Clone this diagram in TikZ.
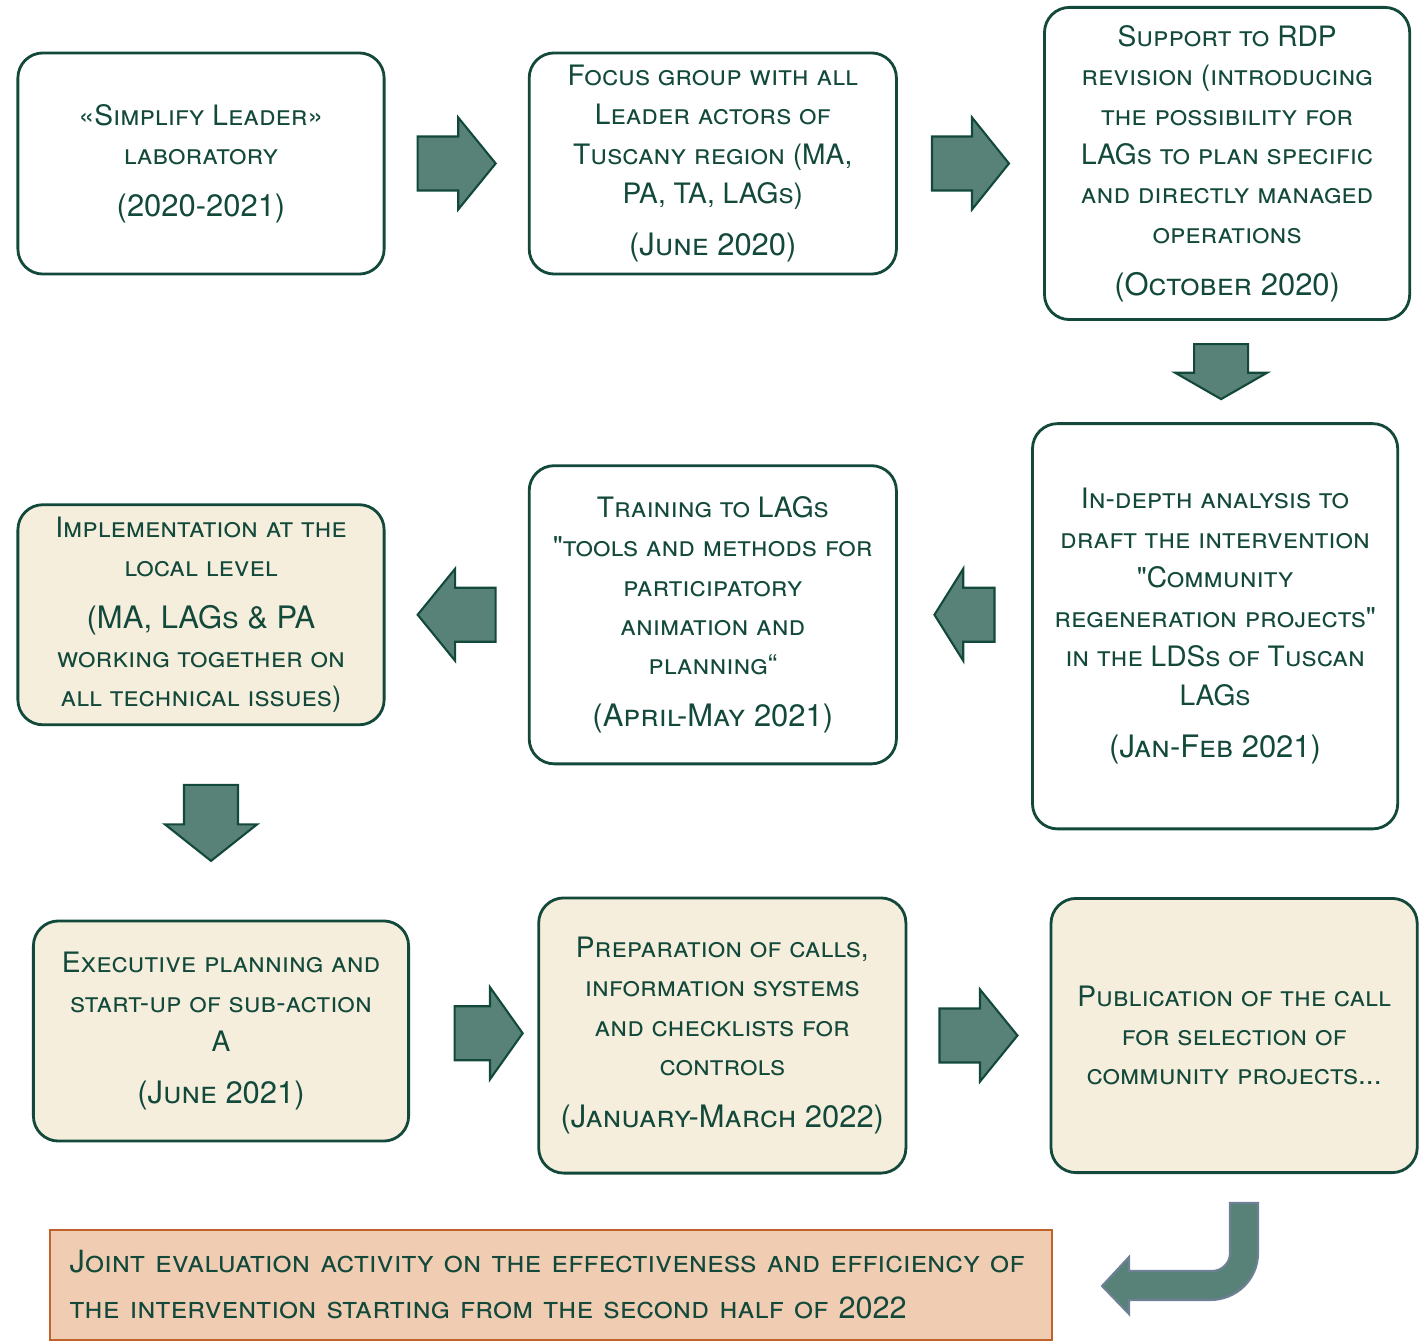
\documentclass[tikz,border=0pt]{standalone}
\usepackage{fontspec}
\setmainfont{TeX Gyre Heros}
\usetikzlibrary{positioning,calc}

\definecolor{ink}{HTML}{12493B}
\definecolor{arrowfill}{HTML}{588277}
\definecolor{cream}{HTML}{F6EEDC}
\definecolor{peach}{HTML}{F0CDB2}
\definecolor{rust}{HTML}{C0622A}
\definecolor{bendline}{HTML}{6E8096}

\tikzset{
  stage/.style={draw=ink, line width=0.8pt, rounded corners=0.25cm, fill=white,
    text=ink, align=center, inner sep=0pt, outer sep=0pt,
    font=\fontsize{8}{11.2}\selectfont\scshape},
  done/.style={stage, fill=cream},
  blockarrow/.style={draw=ink, line width=0.6pt, fill=arrowfill, line join=miter},
  bentarrow/.style={draw=bendline, line width=0.6pt, fill=arrowfill},
}
\newcommand{\when}[1]{\\[3.5pt]{\fontsize{8.8}{11.2}\selectfont #1}}
% block arrow: position, angle, length (px)
\newcommand{\BlockArrow}[3]{%
  \pgfmathsetmacro{\arrHalf}{#3/2}%
  \pgfmathsetmacro{\arrBase}{#3/2-0.48*#3}%
  \draw[blockarrow, shift={#1}, rotate=#2] (-\arrHalf,-27) -- (\arrBase,-27)
    -- (\arrBase,-46) -- (\arrHalf,0) -- (\arrBase,46) -- (\arrBase,27)
    -- (-\arrHalf,27) -- cycle;}

\begin{document}
\begin{tikzpicture}[x=0.01cm, y=-0.01cm]
  \useasboundingbox (0,0) rectangle (1422,1340);

  % first row
  \node[stage, minimum width=3.66cm, minimum height=2.21cm] (lab) at (201,163.5)
    {«Simplify Leader»\\laboratory\when{(2020-2021)}};
  \node[stage, minimum width=3.67cm, minimum height=2.21cm, right=1.45cm of lab] (focus)
    {Focus group with all\\Leader actors of\\Tuscany region (MA,\\PA, TA, LAGs)\when{(June 2020)}};
  \node[stage, minimum width=3.65cm, minimum height=3.12cm, right=1.48cm of focus] (support)
    {Support to RDP\\revision (introducing\\the possibility for\\LAGs to plan specific\\and directly managed\\operations\when{(October 2020)}};

  % second row
  \node[stage, minimum width=3.65cm, minimum height=4.05cm, below=1.04cm of support, xshift=-0.12cm] (analysis)
    {In-depth analysis to\\draft the intervention\\\textquotedbl Community\\regeneration projects\textquotedbl\\in the LDSs of Tuscan\\LAGs\when{(Jan-Feb 2021)}};
  \node[stage, minimum width=3.67cm, minimum height=2.98cm, left=1.36cm of analysis, yshift=0.115cm] (train)
    {Training to LAGs\\\textquotedbl tools and methods for\\participatory\\animation and\\planning“\when{(April-May 2021)}};
  \node[done, minimum width=3.66cm, minimum height=2.20cm, left=1.45cm of train] (implement)
    {Implementation at the\\local level\\[3.5pt]{\fontsize{8.8}{11.2}\selectfont(MA, LAGs \& PA}\\working together on\\all technical issues)};

  % third row
  \node[done, minimum width=3.75cm, minimum height=2.20cm, below=1.96cm of implement, xshift=0.2cm] (exec)
    {Executive planning and\\start-up of sub-action\\A\when{(June 2021)}};
  \node[done, minimum width=3.67cm, minimum height=2.75cm, right=1.30cm of exec, yshift=-0.045cm] (prep)
    {Preparation of calls,\\information systems\\and checklists for\\controls\when{(January-March 2022)}};
  \node[done, minimum width=3.66cm, minimum height=2.74cm, right=1.45cm of prep] (pub)
    {Publication of the call\\for selection of\\community projects...};

  % final evaluation
  \node[draw=rust, line width=0.5pt, fill=peach, text=ink, minimum width=10.02cm, minimum height=1.10cm,
    text width=9.62cm, align=left, inner sep=0pt, font=\fontsize{8.7}{13.1}\selectfont\scshape] (joint) at (551,1285)
    {Joint evaluation activity on the effectiveness and efficiency of\\the intervention starting from the second half of 2022};

  % arrows
  \BlockArrow{($(lab.east)!0.5!(focus.west)$)}{0}{78}
  \BlockArrow{($(focus.east)!0.5!(support.west)$)}{0}{77}
  \BlockArrow{($(support.south)!0.5!(analysis.north)$)}{-90}{55}
  \BlockArrow{($(train.east)!0.5!(train.east -| analysis.west)$)}{180}{60}
  \BlockArrow{($(implement.east)!0.5!(train.west)$)}{180}{78}
  \BlockArrow{($(implement.south)!0.5!(exec.north)$)}{-90}{76}
  \BlockArrow{($(exec.east)!0.5!(prep.west)+(15,0)$)}{0}{68}
  \BlockArrow{($(prep.east)!0.5!(pub.west)$)}{0}{78}
  \draw[bentarrow] (1230,1203) -- (1258,1203) -- (1258,1253)
    .. controls (1258,1279.5) and (1236.5,1300) .. (1210,1300)
    -- (1129,1300) -- (1129,1314) -- (1102,1286) -- (1129,1257) -- (1129,1271)
    -- (1212,1271) .. controls (1222,1271) and (1230,1263) .. (1230,1253) -- cycle;
\end{tikzpicture}
\end{document}
